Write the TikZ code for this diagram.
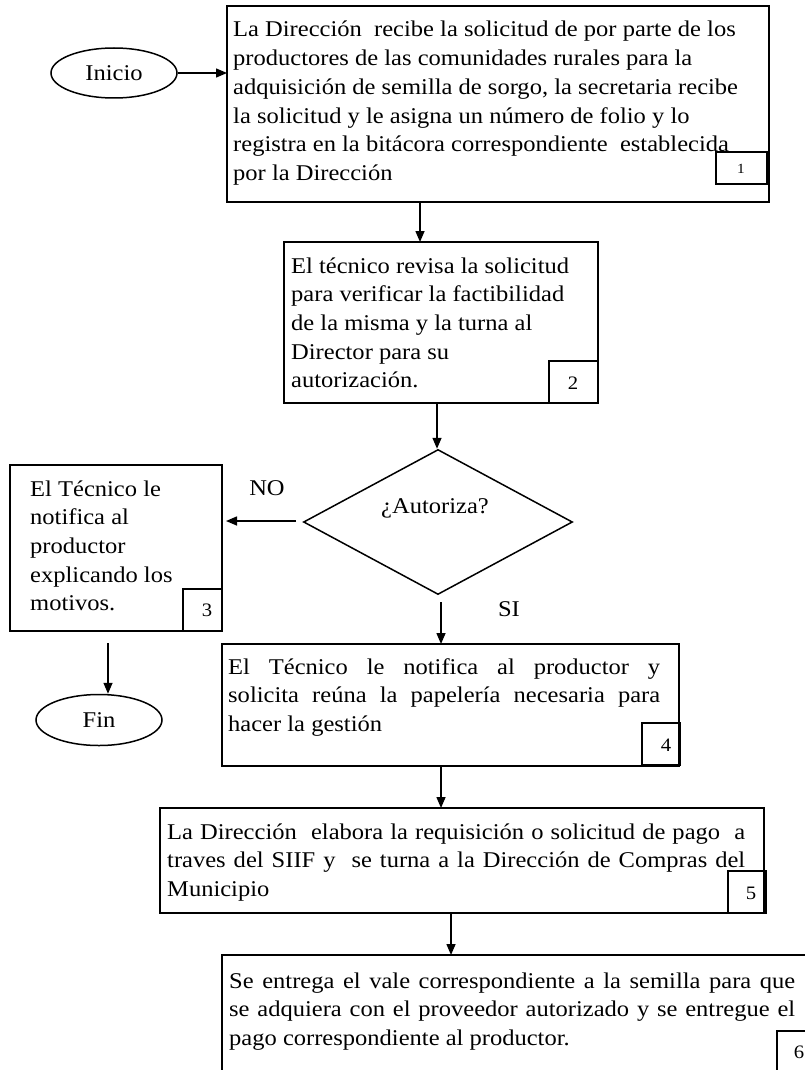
\documentclass[tikz,border=0pt]{standalone}
\usepackage{fontspec}
\setmainfont{Liberation Serif}[FakeStretch=1.09]
\usetikzlibrary{arrows.meta,shapes.geometric}
\newcommand{\jline}[1]{\makebox[\linewidth][s]{#1}}
\tikzset{
  frame/.style={draw, line width=1.5pt, inner sep=0pt, outer sep=0pt, anchor=north west},
  numbox/.style={draw, line width=1.3pt, inner sep=0pt, outer sep=0pt, anchor=north west},
  digit/.style={font=\fontsize{19}{22}\selectfont, inner sep=0pt},
  body/.style={font=\fontsize{22.5}{28.7}\selectfont, inner sep=0pt, anchor=base west},
  lbl/.style={font=\fontsize{22.5}{28.7}\selectfont, inner sep=0pt},
  term/.style={ellipse, draw, line width=1.5pt, inner sep=0pt, font=\fontsize{22.5}{28.7}\selectfont},
  arr/.style={line width=1.5pt, -{Triangle[length=11pt,width=9pt]}},
}
\begin{document}
\begin{tikzpicture}[x=1pt,y=-1pt]
\useasboundingbox (0,0) rectangle (805,1070);
\clip (0,0) rectangle (805,1070);

% boxes
\node[frame, minimum width=542pt, minimum height=196pt] (b1) at (227,6) {};
\node[frame, minimum width=314pt, minimum height=161pt] (b2) at (284,242) {};
\node[frame, minimum width=212pt, minimum height=166pt] (b3) at (10,465) {};
\node[frame, minimum width=457pt, minimum height=122pt] (b4) at (222,644) {};
\node[frame, minimum width=604pt, minimum height=105pt] (b5) at (160,808) {};
\node[frame, minimum width=640pt, minimum height=140pt] (b6) at (222,955) {};

% terminals and decision
\node[term, minimum width=126pt, minimum height=50pt] (ini) at (114,73) {Inicio};
\node[term, minimum width=126pt, minimum height=51pt] (fin) at (99,720) {Fin};
\node[diamond, draw, line width=1.5pt, inner sep=0pt, minimum width=269pt, minimum height=145pt] (d) at (438,522) {};
\node[lbl] (dq) at (435,508) {¿Autoriza?};

% number boxes
\node[numbox, minimum width=51pt, minimum height=32pt] (n1) at (716,152) {};
\node[digit, font=\fontsize{14}{16}\selectfont] (d1) at (741,169) {1};
\node[numbox, minimum width=49pt, minimum height=42pt] (n2) at (549,361) {};
\node[digit] (d2) at (573,383) {2};
\node[numbox, minimum width=39pt, minimum height=42pt] (n3) at (183,589) {};
\node[digit] (d3) at (207,610) {3};
\node[numbox, minimum width=38pt, minimum height=42pt] (n4) at (642,723) {};
\node[digit] (d4) at (666,745) {4};
\node[numbox, minimum width=38pt, minimum height=42pt] (n5) at (728,871) {};
\node[digit] (d5) at (751,893) {5};
\node[numbox, minimum width=40pt, minimum height=45pt] (n6) at (777,1031) {};
\node[digit] (d6) at (799,1052) {6};

% texts
\node[body] (t1) at (233,37) {\parbox[t]{600pt}{La Dirección\ \ recibe la solicitud de por parte de los\\
productores de las comunidades rurales para la\\
adquisición de semilla de sorgo, la secretaria recibe\\
la solicitud y le asigna un número de folio y lo\\
registra en la bitácora correspondiente\ \ establecida\\
por la Dirección}};

\node[body] (t2) at (291,273) {\parbox[t]{400pt}{El técnico revisa la solicitud\\
para verificar la factibilidad\\
de la misma y la turna al\\
Director para su\\
autorización.}};

\node[body] (t3) at (30,496) {\parbox[t]{300pt}{El Técnico le\\
notifica al\\
productor\\
explicando los\\
motivos.}};

\node[body] (t4) at (228,674) {\parbox[t]{432pt}{\jline{El Técnico le notifica al productor y}\\
\jline{solicita reúna la papelería necesaria para}\\
hacer la gestión}};

\node[body] (t5) at (167,839) {\parbox[t]{578pt}{\jline{La Dirección\ \ elabora la requisición o solicitud de pago\ \ a}\\
\jline{traves del SIIF y\ \ se turna a la Dirección de Compras del}\\
Municipio}};

\node[body] (t6) at (229,988) {\parbox[t]{566pt}{\jline{Se entrega el vale correspondiente a la semilla para que}\\
\jline{se adquiera con el proveedor autorizado y se entregue el}\\
pago correspondiente al productor.}};

% labels
\node[lbl] (no) at (267,488) {NO};
\node[lbl] (si) at (509,609) {SI};

% connectors
\coordinate (c12) at (420,0);
\coordinate (c2d) at (437,0);
\coordinate (noS) at (296,521);
\coordinate (siS) at (441,602);
\coordinate (fS) at (108,643);
\coordinate (c45) at (441,0);
\coordinate (c56) at (451,0);

\draw[arr] (ini.east) -- (ini.east -| b1.west);
\draw[arr] (b1.south -| c12) -- (b2.north -| c12);
\draw[arr] (b2.south -| c2d) -- (d.north -| c2d);
\draw[arr, shorten >=4pt] (noS) -- (noS -| b3.east);
\draw[arr] (siS) -- (siS |- b4.north);
\draw[arr] (fS) -- (fS |- fin.north);
\draw[arr] (b4.south -| c45) -- (b5.north -| c45);
\draw[arr] (b5.south -| c56) -- (b6.north -| c56);
\end{tikzpicture}
\end{document}
